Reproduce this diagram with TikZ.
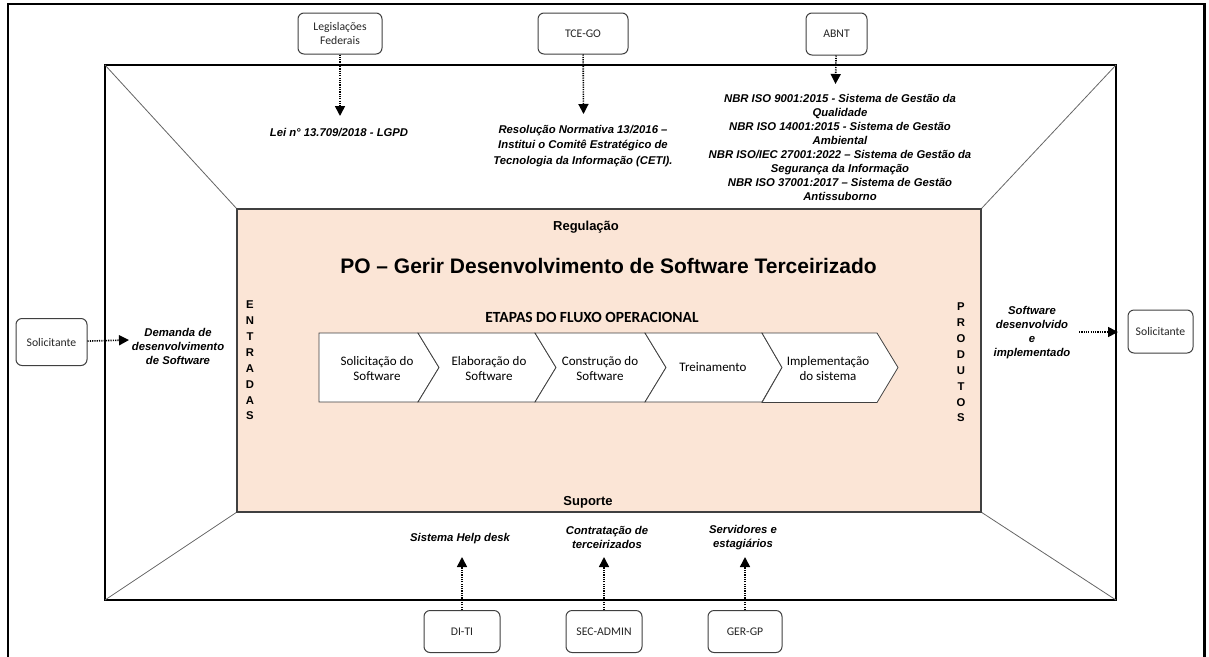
\documentclass[tikz,border=0pt]{standalone}
\usepackage{fontspec}
\setmainfont{Liberation Sans}
\newfontfamily\calfont{Carlito}
\usetikzlibrary{arrows.meta}
\definecolor{salmon}{HTML}{FBE5D6}
\definecolor{edgec}{HTML}{404040}
\tikzset{
 srcbox/.style={draw=edgec, line width=1pt, rounded corners=6pt, fill=white, align=center,
   font=\calfont\fontsize{11.7}{14}\selectfont, text=black!85, inner sep=2pt},
 flow/.style={line width=1.6pt, dash pattern=on 1.2pt off 1.1pt, -{Triangle[length=10pt,width=10pt]}},
 lab/.style={font=\bfseries\itshape\fontsize{11.3}{14.1}\selectfont, align=center, inner sep=1pt},
 chev/.style={draw=edgec, line width=0.8pt, fill=white},
 chevtxt/.style={font=\calfont\fontsize{13}{15}\selectfont, align=center, inner sep=1pt},
 diag/.style={draw=black!60, line width=0.8pt},
 vert/.style={font=\bfseries\fontsize{11.3}{15.9}\selectfont, align=center, inner sep=0pt},
 heading/.style={font=\bfseries\fontsize{13}{15}\selectfont, inner sep=1pt},
}
\begin{document}
\begin{tikzpicture}[x=1pt,y=-1pt]
\useasboundingbox (0,0) rectangle (1209,656);
% outer frame (bottom cut off)
\draw[line width=2.2pt] (8,660) -- (8,4) -- (1204.5,4) -- (1204.5,660);
% inner frame
\draw[line width=2.6pt] (105,65) rectangle (1116,600);
% diagonals
\draw[diag] (105,65) -- (237,209);
\draw[diag] (1116,65) -- (981,209);
\draw[diag] (105,600) -- (237,512);
\draw[diag] (1116,600) -- (981,512);
% central area
\draw[draw=edgec, line width=1.5pt, fill=salmon] (237,209) rectangle (981,512);
\node[heading] (reg) at (586,227) {Regulação};
\node[heading] (sup) at (588,502) {Suporte};
\node[font=\bfseries\fontsize{21}{24}\selectfont, inner sep=1pt] (title) at (608.5,266) {PO – Gerir Desenvolvimento de Software Terceirizado};
\node[font=\calfont\bfseries\fontsize{15.5}{18}\selectfont, inner sep=1pt] (etapas) at (592,317) {ETAPAS DO FLUXO OPERACIONAL};
\node[vert] (entr) at (250,360.5) {E\\N\\T\\R\\A\\D\\A\\S};
\node[vert] (prod) at (961,362.5) {P\\R\\O\\D\\U\\T\\O\\S};
% chevrons
\draw[chev] (319,333) -- (418,333) -- (439,367.5) -- (418,402) -- (319,402) -- cycle;
\draw[chev] (418,333) -- (535,333) -- (556,367.5) -- (535,402) -- (418,402) -- (439,367.5) -- cycle;
\draw[chev] (535,333) -- (645,333) -- (666,367.5) -- (645,402) -- (535,402) -- (556,367.5) -- cycle;
\draw[chev] (645,333) -- (762,333) -- (782,367.5) -- (762,402) -- (645,402) -- (666,367.5) -- cycle;
\draw[chev] (762,333) -- (877,333) -- (898,367.5) -- (877,402.5) -- (762,402.5) -- (782,367.5) -- cycle;
\node[chevtxt] (c1) at (377,368.5) {Solicitação do\\Software};
\node[chevtxt] (c2) at (489,368.5) {Elaboração do\\Software};
\node[chevtxt] (c3) at (600,368.5) {Construção do\\Software};
\node[chevtxt] (c4) at (713,367.5) {Treinamento};
\node[chevtxt] (c5) at (828,368.5) {Implementação\\do sistema};
% top sources
\node[srcbox, minimum width=84pt, minimum height=41pt] (leg) at (340,33.5) {Legislações\\Federais};
\node[srcbox, minimum width=90pt, minimum height=41pt] (tce) at (583,33.5) {TCE-GO};
\node[srcbox, minimum width=61pt, minimum height=42pt] (abnt) at (836.5,34) {ABNT};
\node[lab] (lei) at (339,133) {Lei n° 13.709/2018 - LGPD};
\node[lab, font=\bfseries\itshape\fontsize{11.3}{15.5}\selectfont] (res) at (583,146) {Resolução Normativa 13/2016 –\\Institui o Comitê Estratégico de\\Tecnologia da Informação (CETI).};
\node[lab] (nbr) at (840,147.5) {NBR ISO 9001:2015 - Sistema de Gestão da\\Qualidade\\NBR ISO 14001:2015 - Sistema de Gestão\\Ambiental\\NBR ISO/IEC 27001:2022 – Sistema de Gestão da\\Segurança da Informação\\NBR ISO 37001:2017 – Sistema de Gestão\\Antissuborno};
\coordinate (legtip) at (340,116);
\coordinate (tcetip) at (583.5,114);
\coordinate (abnttip) at (835.5,84);
\draw[flow] (leg) -- (legtip);
\draw[flow] (tce) -- (tcetip);
\draw[flow] (abnt) -- (abnttip);
% bottom sources
\node[srcbox, minimum width=76pt, minimum height=42pt] (diti) at (462,631.5) {DI-TI};
\node[srcbox, minimum width=76pt, minimum height=42pt] (sec) at (604,631.5) {SEC-ADMIN};
\node[srcbox, minimum width=74pt, minimum height=42pt] (ger) at (745,631.5) {GER-GP};
\node[lab] (help) at (460,539) {Sistema Help desk};
\node[lab] (contr) at (607,537.5) {Contratação de\\terceirizados};
\node[lab] (serv) at (743,537.5) {Servidores e\\estagiários};
\coordinate (ditip) at (462,557);
\coordinate (sectip) at (604,557);
\coordinate (gertip) at (745,557);
\draw[flow] (diti) -- (ditip);
\draw[flow] (sec) -- (sectip);
\draw[flow] (ger) -- (gertip);
% left input
\node[srcbox, minimum width=71pt, minimum height=47pt] (solL) at (51.5,342) {Solicitante};
\node[lab, font=\bfseries\itshape\fontsize{11.3}{14}\selectfont] (dem) at (178,346) {Demanda de\\desenvolvimento\\de Software};
\coordinate (demtip) at (129,340);
\draw[flow] (solL) -- (demtip);
% right output
\node[lab, font=\bfseries\itshape\fontsize{11.3}{14}\selectfont] (soft) at (1032,333) {Software\\desenvolvido\\e\\implementado};
\node[srcbox, minimum width=65pt, minimum height=43pt] (solR) at (1160.5,331.5) {Solicitante};
\coordinate (softstart) at (1079,332);
\coordinate (softtip) at (1118,332);
\draw[flow] (softstart) -- (softtip);
\end{tikzpicture}
\end{document}
